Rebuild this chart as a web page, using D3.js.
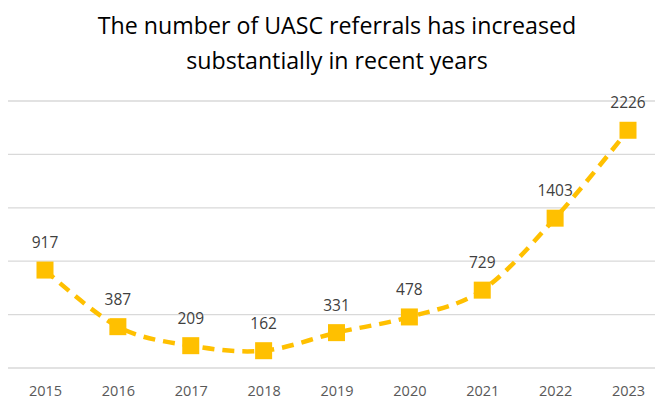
<!DOCTYPE html>
<html>
<head>
<meta charset="utf-8">
<script src="https://cdn.jsdelivr.net/npm/d3@7"></script>
<style>
  html, body { margin: 0; padding: 0; background: #fff; }
  svg { display: block; }
</style>
</head>
<body>
<svg id="chart" width="658" height="399"></svg>
<script>
// UASC referrals per year
const years = ["2015", "2016", "2017", "2018", "2019", "2020", "2021", "2022", "2023"];
const referrals = [917, 387, 209, 162, 331, 478, 729, 1403, 2226];
const gridTicks = [0, 500, 1000, 1500, 2000, 2500];
const titleLines = ["The number of UASC referrals has increased", "substantially in recent years"];

const svg = d3.select("#chart");
const W = 658, H = 399;
const fontFamily = "'Open Sans', 'Noto Sans', sans-serif";
const lineColor = "#FFC000";

const x = d3.scalePoint().domain(years).range([45, 628]);
const y = d3.scaleLinear().domain([0, 2500]).range([368, 101]);

// Title
svg.append("g").selectAll("text")
  .data(titleLines)
  .join("text")
  .attr("x", 337)
  .attr("y", (d, i) => 34 + i * 35)
  .attr("text-anchor", "middle")
  .attr("font-family", fontFamily)
  .attr("font-size", 23.2)
  .attr("fill", "#000")
  .text(d => d);

// Horizontal gridlines
svg.append("g").selectAll("line")
  .data(gridTicks)
  .join("line")
  .attr("x1", 8)
  .attr("x2", 655)
  .attr("y1", d => y(d))
  .attr("y2", d => y(d))
  .attr("stroke", "#d9d9d9")
  .attr("stroke-width", 1.3);

// Category axis labels
const xAxis = d3.axisBottom(x).tickSize(0).tickPadding(0);
const gx = svg.append("g").attr("transform", "translate(0,386)").call(xAxis);
gx.select(".domain").remove();
gx.selectAll("text")
  .attr("font-family", fontFamily)
  .attr("font-size", 14.5)
  .attr("fill", "#595959");

const data = years.map((yr, i) => ({ year: yr, value: referrals[i] }));

// Smoothed dashed line
const line = d3.line()
  .x(d => x(d.year))
  .y(d => y(d.value))
  .curve(d3.curveCatmullRom.alpha(0));

svg.append("path")
  .datum(data)
  .attr("d", line)
  .attr("fill", "none")
  .attr("stroke", lineColor)
  .attr("stroke-width", 4.5)
  .attr("stroke-dasharray", "12,8");

// Square markers
const m = 17;
svg.append("g").selectAll("rect")
  .data(data)
  .join("rect")
  .attr("x", d => x(d.year) - m / 2)
  .attr("y", d => y(d.value) - m / 2)
  .attr("width", m)
  .attr("height", m)
  .attr("fill", lineColor);

// Value labels
svg.append("g").selectAll("text")
  .data(data)
  .join("text")
  .attr("x", d => x(d.year))
  .attr("y", d => y(d.value) - 22)
  .attr("text-anchor", "middle")
  .attr("font-family", fontFamily)
  .attr("font-size", 15.5)
  .attr("fill", "#404040")
  .text(d => d.value);
</script>
</body>
</html>
